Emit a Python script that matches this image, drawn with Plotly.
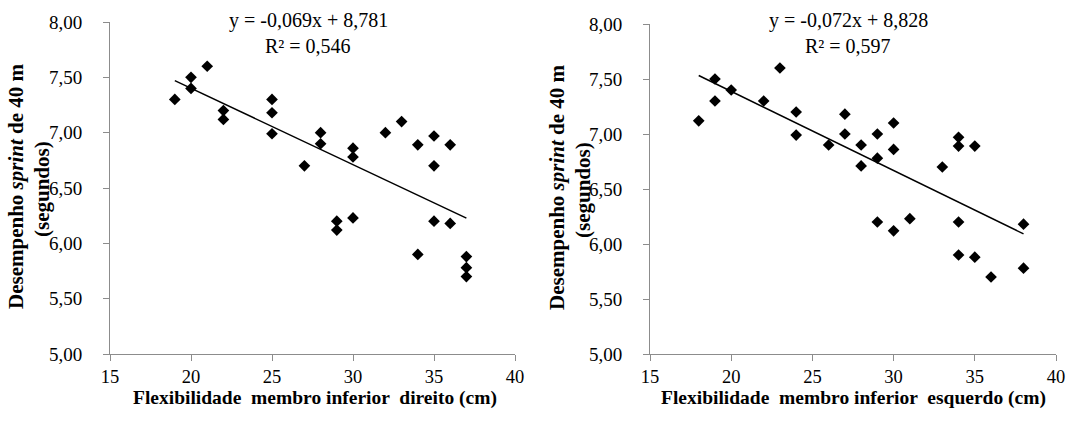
import plotly.graph_objects as go

# Left panel: right-leg flexibility vs 40 m sprint time
x_dir = [19, 20, 20, 21, 22, 22, 25, 25, 25, 27, 28, 28, 29, 29, 30, 30, 30,
         32, 33, 34, 34, 35, 35, 35, 36, 36, 37, 37, 37]
y_dir = [7.30, 7.50, 7.40, 7.60, 7.20, 7.12, 7.30, 7.18, 6.99, 6.70, 7.00, 6.90,
         6.20, 6.12, 6.86, 6.78, 6.23, 7.00, 7.10, 6.89, 5.90, 6.97, 6.70, 6.20,
         6.89, 6.18, 5.88, 5.78, 5.70]

# Right panel: left-leg flexibility vs 40 m sprint time
x_esq = [18, 19, 19, 20, 22, 23, 24, 24, 26, 27, 27, 28, 28, 29, 29, 30, 30,
         33, 34, 34, 35, 29, 30, 31, 34, 34, 35, 36, 38, 38]
y_esq = [7.12, 7.50, 7.30, 7.40, 7.30, 7.60, 7.20, 6.99, 6.90, 7.18, 7.00, 6.90,
         6.71, 7.00, 6.78, 7.10, 6.86, 6.70, 6.97, 6.89, 6.89, 6.20, 6.12, 6.23,
         6.20, 5.90, 5.88, 5.70, 6.18, 5.78]

# Trendline coefficients (as printed)
slope_dir, icpt_dir, r2_dir = -0.069, 8.781, 0.546
slope_esq, icpt_esq, r2_esq = -0.072, 8.828, 0.597

x_ticks = [15, 20, 25, 30, 35, 40]
y_ticks = [5.0, 5.5, 6.0, 6.5, 7.0, 7.5, 8.0]

FONT = "Times New Roman, Liberation Serif, serif"
W, H = 1068, 426

def px(x):
    return x / W

def py(y):
    return 1 - y / H

fig = go.Figure()

fig.add_trace(go.Scatter(x=x_dir, y=y_dir, mode="markers", xaxis="x", yaxis="y",
                         marker=dict(symbol="diamond", size=9, color="black"),
                         showlegend=False))
xd = [min(x_dir), max(x_dir)]
fig.add_trace(go.Scatter(x=xd, y=[slope_dir * v + icpt_dir for v in xd], mode="lines",
                         xaxis="x", yaxis="y", line=dict(color="black", width=1.5),
                         showlegend=False))
fig.add_trace(go.Scatter(x=x_esq, y=y_esq, mode="markers", xaxis="x2", yaxis="y2",
                         marker=dict(symbol="diamond", size=9, color="black"),
                         showlegend=False))
xe = [min(x_esq), max(x_esq)]
fig.add_trace(go.Scatter(x=xe, y=[slope_esq * v + icpt_esq for v in xe], mode="lines",
                         xaxis="x2", yaxis="y2", line=dict(color="black", width=1.5),
                         showlegend=False))

axis_common = dict(showgrid=False, zeroline=False, showline=True, linecolor="#8c8c8c",
                   linewidth=1, ticks="outside", tickcolor="#8c8c8c", ticklen=6)
xtick_font = dict(family=FONT, size=18.5, color="black")
ytick_font = dict(family=FONT, size=19, color="black")

fig.update_layout(
    width=W, height=H, margin=dict(l=0, r=0, t=0, b=0, autoexpand=False),
    font=dict(family=FONT),
    paper_bgcolor="white", plot_bgcolor="white", separators=",.",
    xaxis=dict(domain=[px(110), px(515)], range=[15, 40], tickvals=x_ticks,
               anchor="y", ticklabelstandoff=0, tickfont=xtick_font, **axis_common),
    yaxis=dict(domain=[py(354), py(22)], range=[5, 8], tickvals=y_ticks,
               tickformat=".2f", anchor="x", ticklabelstandoff=17, tickfont=ytick_font,
               **axis_common),
    xaxis2=dict(domain=[px(650), px(1056)], range=[15, 40], tickvals=x_ticks,
                anchor="y2", ticklabelstandoff=0, tickfont=xtick_font, **axis_common),
    yaxis2=dict(domain=[py(354), py(24)], range=[5, 8], tickvals=y_ticks,
                tickformat=".2f", anchor="x2", ticklabelstandoff=17, tickfont=ytick_font,
                **axis_common),
)

def fmt(v, d):
    return f"{v:.{d}f}".replace(".", ",")

ann = []
ann_font = dict(family=FONT, size=20, color="black")
xt_font = dict(family=FONT, size=19.5, color="black")
yt_font = dict(family=FONT, size=21, color="black")
for cx, s, b, r2 in [(308, slope_dir, icpt_dir, r2_dir), (848, slope_esq, icpt_esq, r2_esq)]:
    ann.append(dict(x=px(cx), y=py(20), xref="paper", yref="paper", showarrow=False,
                    text=f"y = {fmt(s, 3)}x + {fmt(b, 3)}", font=ann_font,
                    xanchor="center", yanchor="middle"))
    ann.append(dict(x=px(cx), y=py(46), xref="paper", yref="paper", showarrow=False,
                    text=f"R² = {fmt(r2, 3)}", font=ann_font,
                    xanchor="center", yanchor="middle"))

for cx, lab in [(315, "Flexibilidade  membro inferior  direito (cm)"),
                (853, "Flexibilidade  membro inferior  esquerdo (cm)")]:
    ann.append(dict(x=px(cx), y=py(398), xref="paper", yref="paper", showarrow=False,
                    text=f"<b>{lab}</b>", font=xt_font,
                    xanchor="center", yanchor="middle"))

for x1, y1, x2, y2 in [(16, 186, 42, 189), (557, 187, 583, 190)]:
    ann.append(dict(x=px(x1), y=py(y1), xref="paper", yref="paper", showarrow=False,
                    text="<b>Desempenho <i>sprint</i> de 40 m</b>", textangle=-90,
                    font=yt_font, xanchor="center", yanchor="middle"))
    ann.append(dict(x=px(x2), y=py(y2), xref="paper", yref="paper", showarrow=False,
                    text="<b>(segundos)</b>", textangle=-90,
                    font=yt_font, xanchor="center", yanchor="middle"))

fig.update_layout(annotations=ann)
fig.write_html("out.html", config={"displayModeBar": False},
               post_script="document.body.style.margin='0';document.body.style.overflow='hidden';")
